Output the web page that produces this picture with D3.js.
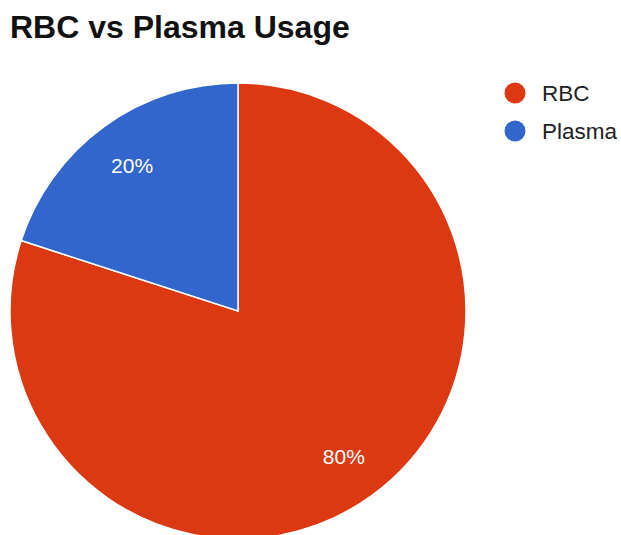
<!DOCTYPE html>
<html>
<head>
<meta charset="utf-8">
<script src="https://cdn.jsdelivr.net/npm/d3@7"></script>
<style>
  body { margin: 0; background: #fff; }
  svg { display: block; font-family: Arial, "Liberation Sans", sans-serif; }
</style>
</head>
<body>
<svg id="chart"></svg>
<script>
// chart data
const categories = ["RBC", "Plasma"];
const values = [80, 20];
const colors = ["#dc3912", "#3366cc"];

const width = 621, height = 535;
const cx = 238, cy = 311, radius = 228;

const svg = d3.select("#chart")
    .attr("width", width)
    .attr("height", height);

svg.append("text")
    .attr("x", 10)
    .attr("y", 38)
    .attr("font-size", 32)
    .attr("font-weight", "bold")
    .attr("fill", "#111")
    .text("RBC vs Plasma Usage");

const data = categories.map((c, i) => ({name: c, value: values[i], color: colors[i]}));

// google-style pie: starts at 12 o'clock, goes clockwise, no sorting
const pie = d3.pie()
    .value(d => d.value)
    .sort(null);

const arc = d3.arc()
    .innerRadius(0)
    .outerRadius(radius);

const labelArc = d3.arc()
    .innerRadius(radius * 0.79)
    .outerRadius(radius * 0.79);

const g = svg.append("g")
    .attr("transform", "translate(" + cx + "," + cy + ")");

const slices = pie(data);

g.selectAll("path")
  .data(slices)
  .enter().append("path")
    .attr("d", arc)
    .attr("fill", d => d.data.color)
    .attr("stroke", "#fff")
    .attr("stroke-width", 1.5);

const total = d3.sum(values);
g.selectAll("text.label")
  .data(slices)
  .enter().append("text")
    .attr("class", "label")
    .attr("transform", d => "translate(" + labelArc.centroid(d) + ")")
    .attr("text-anchor", "middle")
    .attr("dy", "0.35em")
    .attr("font-size", 21)
    .attr("fill", "#fff")
    .text(d => Math.round(d.data.value / total * 100) + "%");

// legend
const legend = svg.selectAll("g.legend")
  .data(data)
  .enter().append("g")
    .attr("class", "legend")
    .attr("transform", (d, i) => "translate(515," + (93 + i * 38) + ")");

legend.append("circle")
    .attr("r", 10.5)
    .attr("fill", d => d.color);

legend.append("text")
    .attr("x", 27)
    .attr("dy", "0.35em")
    .attr("font-size", 22.5)
    .attr("fill", "#222")
    .text(d => d.name);
</script>
</body>
</html>
